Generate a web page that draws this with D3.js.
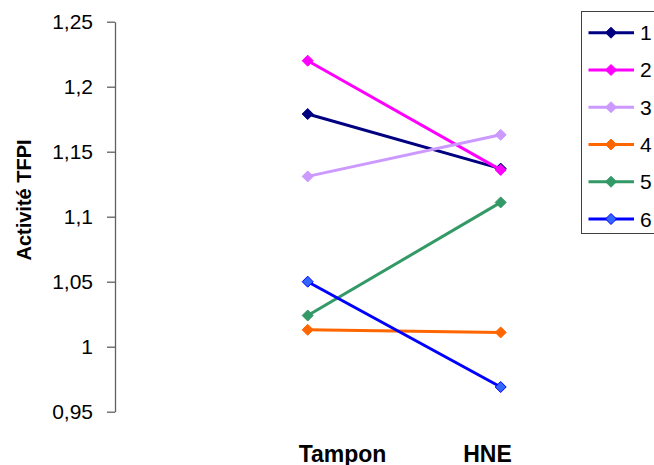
<!DOCTYPE html>
<html><head><meta charset="utf-8">
<script src="https://cdn.jsdelivr.net/npm/d3@7"></script>
<style>body{margin:0;background:#fff}svg{display:block}text{font-family:Arial,"Liberation Sans",sans-serif}</style>
</head><body>
<script>
const categories = ["Tampon", "HNE"];
const seriesNames = ["1", "2", "3", "4", "5", "6"];
const s1 = [1.179, 1.137];
const s2 = [1.220, 1.136];
const s3 = [1.131, 1.163];
const s4 = [1.013, 1.011];
const s5 = [1.024, 1.111];
const s6 = [1.050, 0.969];
const yTicks = [0.95, 1.0, 1.05, 1.1, 1.15, 1.2, 1.25];
const colors = ["#000080", "#FF00FF", "#CC99FF", "#FF6600", "#339966", "#0000FF"];
const markerFill = ["#000080", "#FF00FF", "#CC99FF", "#FF6600", "#339966", "#3366FF"];
const yTitle = "Activité TFPI";

const series = [s1, s2, s3, s4, s5, s6];
const W = 654, H = 465;
const svg = d3.select("body").append("svg").attr("width", W).attr("height", H);

const y = d3.scaleLinear().domain([0.95, 1.25]).range([411.7, 21.7]);
const x = d3.scalePoint().domain(categories).range([307.7, 500.7]);
const xLabel = d3.scalePoint().domain(categories).range([342.5, 487.5]);

// Y axis
const yAxis = d3.axisLeft(y).tickValues(yTicks).tickSize(8).tickSizeOuter(0)
  .tickFormat(d => d3.format(".2~f")(d).replace(".", ","));
const ga = svg.append("g").attr("transform", "translate(115,0)").call(yAxis);
ga.select(".domain").attr("stroke", "#606060").attr("stroke-width", 1.3);
ga.selectAll(".tick line").attr("stroke", "#606060").attr("stroke-width", 1.3);
ga.selectAll(".tick text").attr("font-size", 21).attr("fill", "#000").attr("x", -22)
  .attr("font-family", "Arial, 'Liberation Sans', sans-serif");

// Y title
svg.append("text").attr("transform", "translate(31,200) rotate(-90)")
  .attr("text-anchor", "middle").attr("font-size", 20).attr("font-weight", "bold")
  .text(yTitle);

// X labels
svg.selectAll(".xl").data(categories).enter().append("text")
  .attr("x", d => xLabel(d)).attr("y", 461.5).attr("text-anchor", "middle")
  .attr("font-size", 23).attr("font-weight", "bold").text(d => d);

const diamond = (cx, cy, r) => `M${cx},${cy - r}L${cx + r},${cy}L${cx},${cy + r}L${cx - r},${cy}Z`;

const line = d3.line().x((d, i) => x(categories[i])).y(d => y(d));
series.forEach((s, k) => {
  svg.append("path").attr("d", line(s)).attr("fill", "none")
    .attr("stroke", colors[k]).attr("stroke-width", 3);
  s.forEach((v, i) => {
    svg.append("path").attr("d", diamond(x(categories[i]), y(v), 5.5))
      .attr("fill", markerFill[k]).attr("stroke", colors[k]).attr("stroke-width", 1);
  });
});

// Legend
const lg = svg.append("g");
lg.append("rect").attr("x", 581.5).attr("y", 11.5).attr("width", 80).attr("height", 222)
  .attr("fill", "#fff").attr("stroke", "#404040").attr("stroke-width", 1);
const ly = d3.scalePoint().domain(seriesNames).range([32.7, 219]);
seriesNames.forEach((n, k) => {
  const yy = ly(n);
  lg.append("line").attr("x1", 588.5).attr("x2", 634).attr("y1", yy).attr("y2", yy)
    .attr("stroke", colors[k]).attr("stroke-width", 3);
  lg.append("path").attr("d", diamond(611, yy, 5.5)).attr("fill", markerFill[k])
    .attr("stroke", colors[k]).attr("stroke-width", 1);
  lg.append("text").attr("x", 640).attr("y", yy + 7.5).attr("font-size", 21).text(n);
});
</script>
</body></html>
